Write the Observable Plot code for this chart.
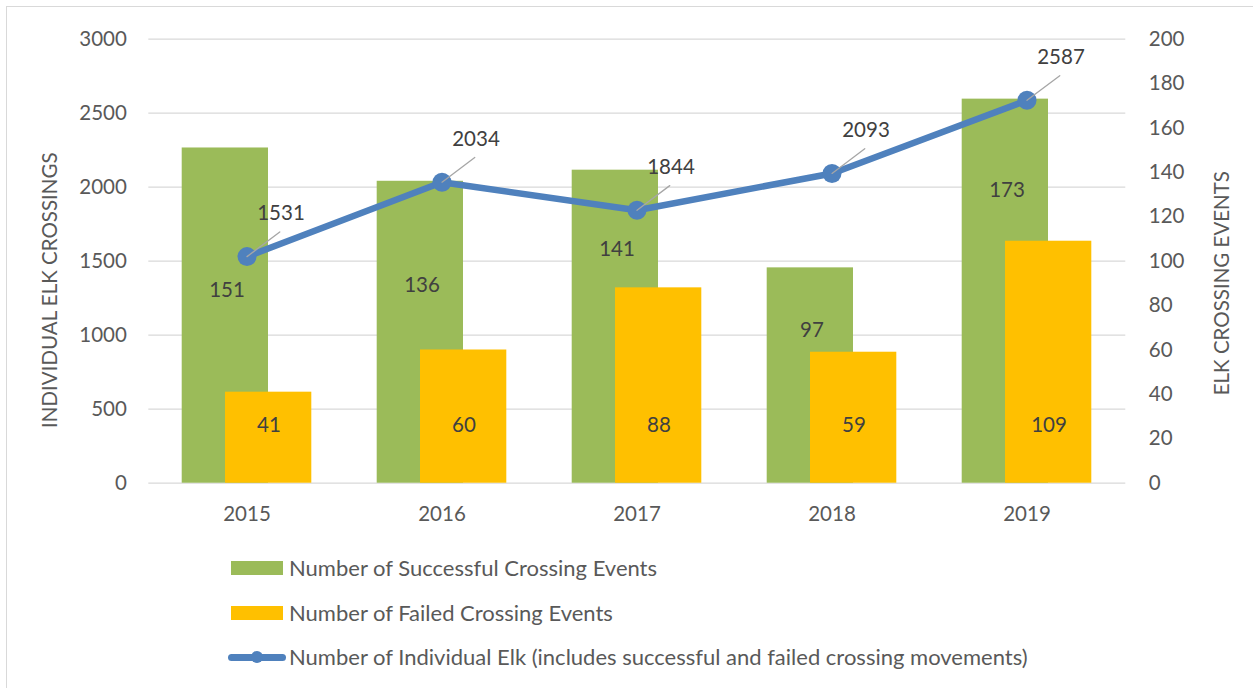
<!DOCTYPE html>
<html>
<head>
<meta charset="utf-8">
<script src="https://cdn.jsdelivr.net/npm/d3@7"></script>
<script src="https://cdn.jsdelivr.net/npm/@observablehq/plot@0.6"></script>
<style>
  html, body { margin: 0; padding: 0; background: #fff; }
  #page { position: relative; width: 1253px; height: 688px; overflow: hidden; font-family: Lato, sans-serif; }
  #frame { position: absolute; left: 6px; top: 6px; width: 2000px; height: 2000px;
           border-left: 1.5px solid #D9D9D9; border-top: 1.5px solid #D9D9D9; pointer-events: none; z-index: 2; }
  #chart { position: absolute; left: 0; top: 0; }
  .lg { position: absolute; font-size: 22px; color: #595959; line-height: 26px; white-space: nowrap; }
  .sw { position: absolute; }
</style>
</head>
<body>
<div id="page">
  <div id="chart"></div>
  <div id="legend"></div>
  <div id="frame"></div>
</div>
<script>
const years = ["2015", "2016", "2017", "2018", "2019"];
const successful = [151, 136, 141, 97, 173];
const failed = [41, 60, 88, 59, 109];
const individualElk = [1531, 2034, 1844, 2093, 2587];
const leftTicks = [0, 500, 1000, 1500, 2000, 2500, 3000];
const rightTicks = [0, 20, 40, 60, 80, 100, 120, 140, 160, 180, 200];
const leftTitle = "INDIVIDUAL ELK CROSSINGS";
const rightTitle = "ELK CROSSING EVENTS";
const seriesNames = [
  "Number of Successful Crossing Events",
  "Number of Failed Crossing Events",
  "Number of Individual Elk (includes successful and failed crossing movements)"
];
const colors = ["#9BBB59", "#FFC000", "#4F81BD"];

const leftMax = leftTicks[leftTicks.length - 1];
const rightMax = rightTicks[rightTicks.length - 1];
const k = leftMax / rightMax;

const rows = years.map((year, i) => ({year, s: successful[i], f: failed[i], elk: individualElk[i]}));

const leader = {
  draw(context, l) {
    context.moveTo(0, 0);
    context.lineTo(0, -l);
  }
};

const chart = Plot.plot({
  width: 1253,
  height: 540,
  marginLeft: 148.3,
  marginRight: 127.7,
  marginTop: 38.7,
  marginBottom: 57.3,
  style: {fontFamily: "Lato, sans-serif", fontSize: "20.5px", color: "#595959", background: "transparent"},
  x: {type: "band", domain: years, padding: 0, label: null},
  y: {domain: [0, leftMax], label: null},
  marks: [
    Plot.gridY(leftTicks, {stroke: "#D9D9D9", strokeOpacity: 1, strokeWidth: 1.3}),
    Plot.barY(rows, {x: "year", y: d => d.s * k, fill: colors[0], insetLeft: 32.7, insetRight: 76}),
    Plot.barY(rows, {x: "year", y: d => d.f * k, fill: colors[1], insetLeft: 76, insetRight: 32.7}),
    Plot.text(rows, {x: "year", y: d => (d.s + d.f) / 2 * k, text: d => String(d.s), dx: -20, dy: 20, fill: "#404040"}),
    Plot.text(rows, {x: "year", y: () => 0, text: d => String(d.f), dx: 22, dy: -58, fill: "#404040"}),
    Plot.line(rows, {x: "year", y: "elk", stroke: colors[2], strokeWidth: 6.5}),
    Plot.dot(rows, {x: "year", y: "elk", r: 9.5, fill: colors[2]}),
    Plot.vector(rows, {x: "year", y: "elk", length: 41, rotate: 53, anchor: "start", shape: leader, stroke: "#A6A6A6", strokeWidth: 1.3}),
    Plot.text(rows, {x: "year", y: "elk", text: d => String(d.elk), dx: 34, dy: -43, fill: "#404040"}),
    Plot.axisY(leftTicks, {anchor: "left", tickSize: 0, tickPadding: 22, tickFormat: d => String(d), label: null}),
    Plot.axisY(rightTicks.map(v => v * k), {anchor: "right", tickSize: 0, tickPadding: 23, tickFormat: d => String(Math.round(d / k)), label: null}),
    Plot.axisX({tickSize: 0, tickPadding: 23, label: null}),
    Plot.text([leftTitle], {frameAnchor: "left", text: d => d, rotate: -90, textAnchor: "middle", dx: -98, dy: 29, fill: "#595959"}),
    Plot.text([rightTitle], {frameAnchor: "right", text: d => d, rotate: -90, textAnchor: "middle", dx: 97, dy: 22, fill: "#595959"})
  ]
});
document.getElementById("chart").appendChild(chart);

// Legend (HTML, below the SVG)
const legend = document.getElementById("legend");
const rowsY = [567.8, 612.8, 657.3];
seriesNames.forEach((name, i) => {
  const cy = rowsY[i];
  if (i < 2) {
    const sw = document.createElement("div");
    sw.className = "sw";
    Object.assign(sw.style, {left: "231px", top: (cy - 7) + "px", width: "52px", height: "14px", background: colors[i]});
    legend.appendChild(sw);
  } else {
    const ln = document.createElement("div");
    ln.className = "sw";
    Object.assign(ln.style, {left: "228px", top: (cy - 3.5) + "px", width: "58px", height: "7px", background: colors[i], borderRadius: "3.5px"});
    legend.appendChild(ln);
    const dt = document.createElement("div");
    dt.className = "sw";
    Object.assign(dt.style, {left: (256.7 - 6) + "px", top: (cy - 6) + "px", width: "12px", height: "12px", background: colors[i], borderRadius: "50%"});
    legend.appendChild(dt);
  }
  const t = document.createElement("div");
  t.className = "lg";
  t.textContent = name;
  Object.assign(t.style, {left: "289px", top: (cy - 13) + "px"});
  legend.appendChild(t);
});
</script>
</body>
</html>
